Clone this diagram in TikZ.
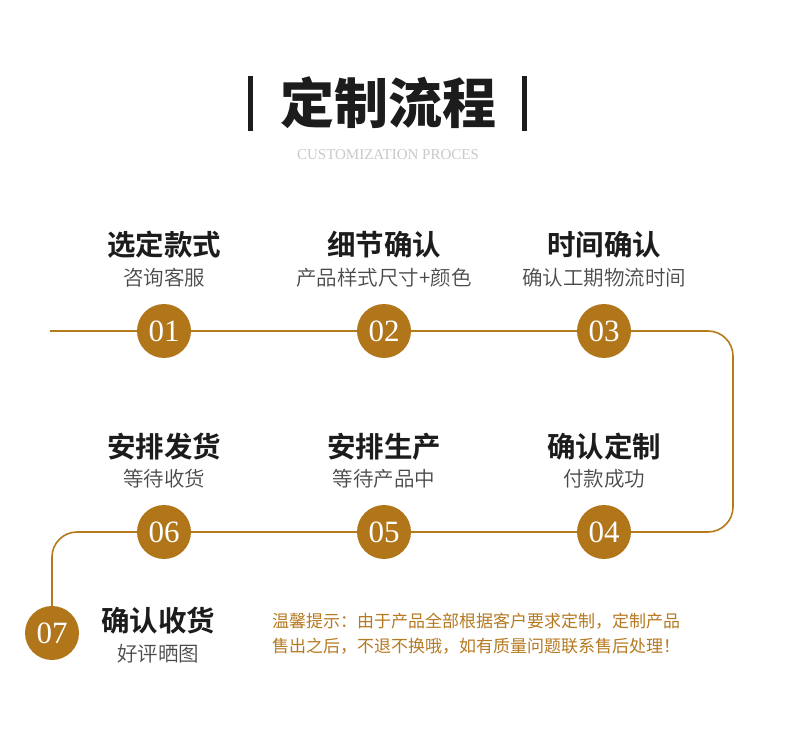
\documentclass[tikz,border=0pt]{standalone}
\usepackage{fontspec}
\newfontfamily\cjk{Noto Sans CJK SC}
\newfontfamily\cjklight{Noto Sans CJK SC DemiLight}
\newfontfamily\cjkbold{Noto Sans CJK SC Bold}
\newfontfamily\cjkblack{Noto Sans CJK SC Black}
\newfontfamily\numfont{Liberation Serif}
\definecolor{gold}{HTML}{B57A1C}
\definecolor{circ}{HTML}{B1761A}
\definecolor{darktxt}{HTML}{1C1C1C}
\definecolor{greytxt}{HTML}{4A4A4A}
\definecolor{lightgrey}{HTML}{C9C9C9}
\definecolor{notice}{HTML}{B67A22}
\tikzset{
  flow/.style={draw=gold, line width=1.6pt},
  numcirc/.style={circle, fill=circ, minimum size=54pt, inner sep=0pt, text=white, font=\numfont\fontsize{31}{31}\selectfont},
  steptitle/.style={text=darktxt, font=\cjkbold\fontsize{28.5}{29}\selectfont, inner sep=0pt},
  stepsub/.style={text=greytxt, font=\cjklight\fontsize{20.5}{21}\selectfont, inner sep=0pt},
  bar/.style={fill=darktxt, draw=none},
}
\begin{document}
\begin{tikzpicture}[x=1pt,y=-1pt]
\useasboundingbox[fill=white] (0,0) rectangle (790,743);
% title
\node[text=darktxt, font=\cjkblack\fontsize{54}{54}\selectfont, inner sep=0pt] (title) at (388,103) {定制流程};
\fill[bar] (248,76) rectangle (253,131);
\fill[bar] (522,76) rectangle (527,131);
\node[text=lightgrey, font=\numfont\fontsize{15}{15}\selectfont, inner sep=0pt] (subtitle) at (388,155) {CUSTOMIZATION PROCES};
% circles
\node[numcirc] (c1) at (164,331) {01};
\node[numcirc] (c2) at (384,331) {02};
\node[numcirc] (c3) at (604,331) {03};
\node[numcirc] (c4) at (604,532) {04};
\node[numcirc] (c5) at (384,532) {05};
\node[numcirc] (c6) at (164,532) {06};
\node[numcirc] (c7) at (52,633) {07};
% path
\coordinate (start) at (50,331);
\coordinate (tr) at (733,331);
\coordinate (br) at (733,532);
\coordinate (bl) at (52,532);
\draw[flow] (start) -- (c1);
\draw[flow] (c1) -- (c2);
\draw[flow] (c2) -- (c3);
\draw[flow, rounded corners=25pt] (c3) -- (tr) -- (br) -- (c4);
\draw[flow] (c4) -- (c5);
\draw[flow] (c5) -- (c6);
\draw[flow, rounded corners=25pt] (c6) -- (bl) -- (c7);
% labels row 1
\node[steptitle] (t1) at (164,245) {选定款式};
\node[stepsub] (s1) at (164,278) {咨询客服};
\node[steptitle] (t2) at (384,245) {细节确认};
\node[stepsub] (s2) at (384,278) {产品样式尺寸+颜色};
\node[steptitle] (t3) at (604,245) {时间确认};
\node[stepsub] (s3) at (604,278) {确认工期物流时间};
% row 2
\node[steptitle] (t6) at (164,447) {安排发货};
\node[stepsub] (s6) at (164,479) {等待收货};
\node[steptitle] (t5) at (384,447) {安排生产};
\node[stepsub] (s5) at (384,479) {等待产品中};
\node[steptitle] (t4) at (604,447) {确认定制};
\node[stepsub] (s4) at (604,479) {付款成功};
% 07
\node[steptitle] (t7) at (158,621) {确认收货};
\node[stepsub] (s7) at (158,654) {好评晒图};
% notice
\node[text=notice, font=\cjk\fontsize{17}{25}\selectfont, inner sep=0pt, anchor=north west, align=left] (note) at (272,613) {温馨提示：由于产品全部根据客户要求定制，定制产品\\售出之后，不退不换哦，如有质量问题联系售后处理！};
\end{tikzpicture}
\end{document}
